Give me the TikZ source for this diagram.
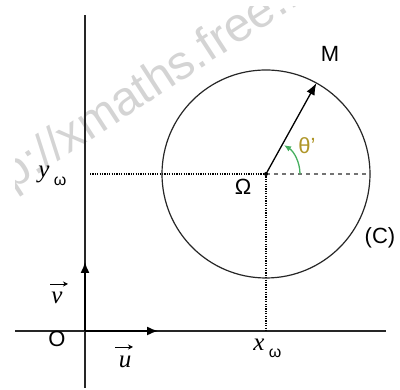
\documentclass[tikz,border=0pt]{standalone}
\usepackage{fontspec}
\setmainfont{Liberation Sans}
\newfontfamily\serifit{Liberation Serif}
\usetikzlibrary{arrows.meta,calc}
\definecolor{wm}{RGB}{212,212,212}
\definecolor{thetacol}{RGB}{175,150,40}
\definecolor{arcgreen}{RGB}{70,175,95}
\tikzset{
  axisline/.style={line width=1.4pt, black!85},
  vecarrow/.style={line width=1.4pt, -{Latex[length=11pt,width=9pt]}},
  guide/.style={line width=1.1pt, black, dash pattern=on 1.2pt off 1.2pt},
  dashguide/.style={line width=1.3pt, black!55, dash pattern=on 4pt off 4pt},
  lab/.style={font=\fontsize{22}{22}\selectfont, inner sep=0pt},
  varlab/.style={font=\fontsize{25}{25}\serifit\itshape, inner sep=0pt},
  sublab/.style={font=\fontsize{16}{16}\selectfont, inner sep=0pt},
  overarrow/.style={line width=0.8pt, -{Stealth[length=5pt,width=5pt]}}
}
\begin{document}
\begin{tikzpicture}[x=1pt,y=1pt]
\useasboundingbox (0,0) rectangle (400,390);
\clip (0,0) rectangle (400,390);
% watermark (cut off at the left and top edges, as in the reference)
\begin{scope}
\clip (15,0) rectangle (400,383);
\node[anchor=base west, rotate=33, text=wm, inner sep=0pt,
      font=\fontsize{48}{48}\selectfont] (wmark) at (-32,170) {http://xmaths.free.fr};
\end{scope}
% points
\coordinate (O) at (85,59);
\coordinate (ytop) at (85,375);
\coordinate (ybot) at (85,2);
\coordinate (xleft) at (15,59);
\coordinate (xright) at (386,59);
\coordinate (utip) at (158,59);
\coordinate (vtip) at (85,128);
\coordinate (Om) at (266,216);
\coordinate (yw) at (90,216);
\coordinate (xw) at (266,59);
\coordinate (rdash) at (370,216);
\coordinate (M) at ($(Om)+(61:104pt)$);
% axes
\draw[axisline] (xleft) -- (xright);
\draw[axisline] (ybot) -- (ytop);
\draw[vecarrow] (O) -- (utip);
\draw[vecarrow] (O) -- (vtip);
% guides
\draw[guide] (yw) -- (Om);
\draw[guide] (Om) -- (xw);
\draw[dashguide] (Om) -- (rdash);
% circle
\draw[line width=1.2pt, black!85] (Om) circle[radius=104pt];
% radius vector
\draw[line width=1.3pt, -{Latex[length=12pt,width=9pt]}] (Om) -- (M);
\fill (Om) circle[radius=2pt];
% angle arc
\draw[arcgreen, line width=1.3pt, -{Latex[length=7pt,width=6pt]}]
  ($(Om)+(34pt,0)$) arc[start angle=0, end angle=58, radius=34pt];
% labels
\node[lab] (lO) at (57,51) {O};
\node[varlab] (lv) at (57,92) {v};
\coordinate (va) at (50,106);
\coordinate (vb) at (68,106);
\draw[overarrow] (va) -- (vb);
\node[varlab] (lu) at (125,28) {u};
\coordinate (ua) at (115,43);
\coordinate (ub) at (133,43);
\draw[overarrow] (ua) -- (ub);
\node[varlab] (lyw) at (44,216) {y};
\node[sublab] (lywsub) at (60,209) {ω};
\node[varlab] (lxw) at (259,45) {x};
\node[sublab] (lxwsub) at (275,37) {ω};
\node[lab] (lOm) at (243,203) {Ω};
\node[lab] (lM) at (330,336) {M};
\node[lab, text=thetacol] (lth) at (307,244) {θ'};
\node[lab] (lC) at (380,152) {(C)};
\end{tikzpicture}
\end{document}
